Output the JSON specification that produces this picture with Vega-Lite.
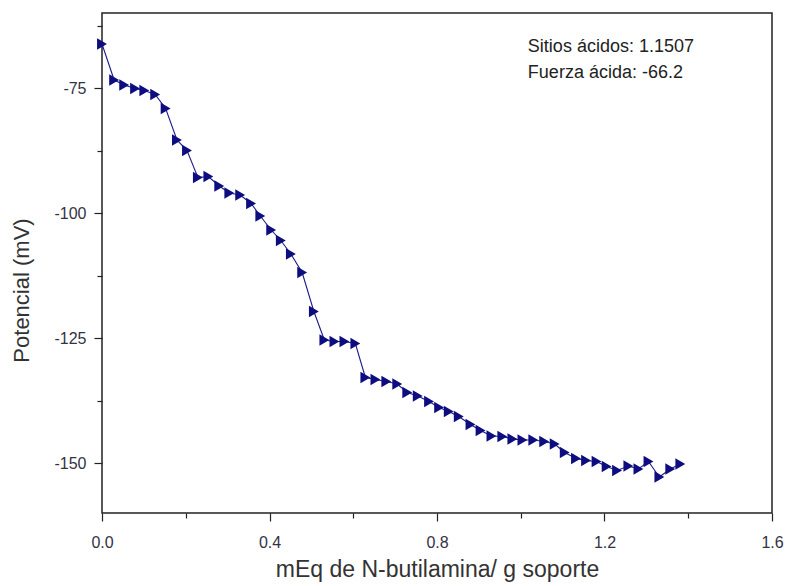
{
  "$schema": "https://vega.github.io/schema/vega-lite/v6.json",
  "autosize": {"type": "none"},
  "padding": {"left": 102, "top": 13, "right": 14, "bottom": 73},
  "width": 670,
  "height": 500,
  "background": "white",
  "config": {
    "view": {"stroke": "#222222", "strokeWidth": 1.5},
    "font": "Liberation Sans",
    "axis": {
      "domain": false,
      "grid": false,
      "tickColor": "#222222",
      "tickWidth": 1.2,
      "labelFont": "Liberation Sans",
      "labelFontSize": 16,
      "labelColor": "#333344",
      "titleFont": "Liberation Sans",
      "titleFontSize": 22,
      "titleFontWeight": "normal",
      "titleColor": "#333333"
    }
  },
  "datasets": {
    "curve": [
      {"meq": 0.0, "pot": -66.2},
      {"meq": 0.029, "pot": -73.4},
      {"meq": 0.053, "pot": -74.4},
      {"meq": 0.079, "pot": -75.1},
      {"meq": 0.101, "pot": -75.5},
      {"meq": 0.127, "pot": -76.3},
      {"meq": 0.152, "pot": -79.1},
      {"meq": 0.179, "pot": -85.4},
      {"meq": 0.203, "pot": -87.5},
      {"meq": 0.229, "pot": -92.9},
      {"meq": 0.254, "pot": -92.7},
      {"meq": 0.28, "pot": -94.6},
      {"meq": 0.304, "pot": -96.0},
      {"meq": 0.33, "pot": -96.4},
      {"meq": 0.356, "pot": -98.1},
      {"meq": 0.378, "pot": -100.6},
      {"meq": 0.404, "pot": -103.4},
      {"meq": 0.427, "pot": -105.5},
      {"meq": 0.451, "pot": -108.2},
      {"meq": 0.478, "pot": -111.9},
      {"meq": 0.506, "pot": -119.7},
      {"meq": 0.531, "pot": -125.4},
      {"meq": 0.555, "pot": -125.7},
      {"meq": 0.579, "pot": -125.7},
      {"meq": 0.605, "pot": -126.1},
      {"meq": 0.629, "pot": -132.9},
      {"meq": 0.653, "pot": -133.3},
      {"meq": 0.679, "pot": -133.7},
      {"meq": 0.705, "pot": -134.2},
      {"meq": 0.729, "pot": -135.9},
      {"meq": 0.754, "pot": -136.6},
      {"meq": 0.781, "pot": -137.7},
      {"meq": 0.805, "pot": -138.9},
      {"meq": 0.828, "pot": -139.7},
      {"meq": 0.852, "pot": -140.7},
      {"meq": 0.88, "pot": -142.3},
      {"meq": 0.904, "pot": -143.5},
      {"meq": 0.93, "pot": -144.6},
      {"meq": 0.956, "pot": -144.7},
      {"meq": 0.98, "pot": -145.2},
      {"meq": 1.004, "pot": -145.4},
      {"meq": 1.03, "pot": -145.4},
      {"meq": 1.056, "pot": -145.7},
      {"meq": 1.081, "pot": -146.2},
      {"meq": 1.105, "pot": -147.9},
      {"meq": 1.132, "pot": -149.1},
      {"meq": 1.156, "pot": -149.5},
      {"meq": 1.181, "pot": -149.7},
      {"meq": 1.205, "pot": -150.7},
      {"meq": 1.23, "pot": -151.5},
      {"meq": 1.257, "pot": -150.6},
      {"meq": 1.281, "pot": -151.2},
      {"meq": 1.305, "pot": -149.7},
      {"meq": 1.331, "pot": -152.8},
      {"meq": 1.357, "pot": -151.2},
      {"meq": 1.381, "pot": -150.2}
    ],
    "notes": [
      {"x": 1.017, "y": -66.8, "label": "Sitios ácidos: 1.1507"},
      {"x": 1.017, "y": -72.0, "label": "Fuerza ácida: -66.2"}
    ]
  },
  "resolve": {"axis": {"x": "independent", "y": "independent"}},
  "layer": [
    {
      "data": {"name": "curve"},
      "mark": {"type": "line", "color": "#1a1a8c", "strokeWidth": 1.1, "clip": true},
      "encoding": {
        "x": {
          "field": "meq", "type": "quantitative",
          "scale": {"domain": [0, 1.6], "nice": false, "zero": false},
          "axis": {
            "orient": "bottom",
            "values": [0, 0.4, 0.8, 1.2, 1.6],
            "format": ".1f",
            "tickSize": 8,
            "labelPadding": 13,
            "title": "mEq de N-butilamina/ g soporte",
            "titleFontSize": 23,
            "titlePadding": 8,
            "labelFlush": false
          }
        },
        "y": {
          "field": "pot", "type": "quantitative",
          "scale": {"domain": [-160, -60], "nice": false, "zero": false},
          "axis": {
            "orient": "left",
            "values": [-75, -100, -125, -150],
            "labelExpr": "toString(datum.value)",
            "tickSize": 8,
            "labelPadding": 8,
            "title": "Potencial (mV)",
            "titlePadding": 20,
            "titleY": 277
          }
        }
      }
    },
    {
      "data": {"name": "curve"},
      "mark": {"type": "point", "shape": "triangle-right", "filled": true, "color": "#0d0d80", "opacity": 1, "size": 130},
      "encoding": {
        "x": {
          "field": "meq", "type": "quantitative",
          "scale": {"domain": [0, 1.6], "nice": false, "zero": false},
          "axis": {
            "orient": "bottom",
            "values": [0.2, 0.6, 1.0, 1.4],
            "tickSize": 5,
            "labels": false,
            "title": null
          }
        },
        "y": {
          "field": "pot", "type": "quantitative",
          "scale": {"domain": [-160, -60], "nice": false, "zero": false},
          "axis": {
            "orient": "left",
            "values": [-62.5, -87.5, -112.5, -137.5],
            "tickSize": 5,
            "labels": false,
            "title": null
          }
        }
      }
    },
    {
      "data": {"name": "notes"},
      "mark": {"type": "text", "align": "left", "baseline": "middle", "fontSize": 18, "color": "#222222", "font": "Liberation Sans"},
      "encoding": {
        "x": {"field": "x", "type": "quantitative", "scale": {"domain": [0, 1.6], "nice": false, "zero": false}, "axis": null},
        "y": {"field": "y", "type": "quantitative", "scale": {"domain": [-160, -60], "nice": false, "zero": false}, "axis": null},
        "text": {"field": "label"}
      }
    }
  ]
}
